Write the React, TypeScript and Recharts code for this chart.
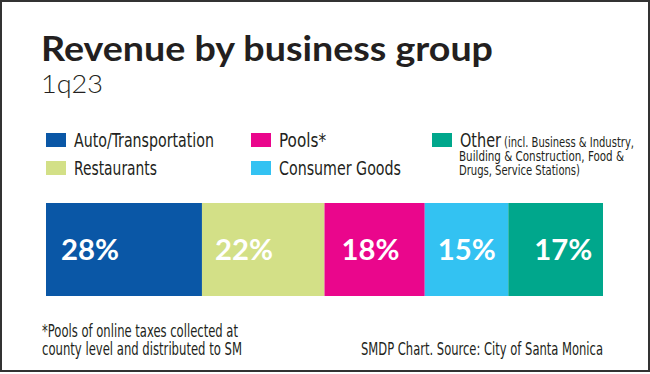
import React from 'react';
import { BarChart, Bar, XAxis, YAxis, LabelList } from 'recharts';

// ---- Data ----
const categories = ['Auto/Transportation', 'Restaurants', 'Pools*', 'Consumer Goods', 'Other'];
const seriesKeys = ['auto', 'restaurants', 'pools', 'consumer', 'other'];
const shares = [28, 22, 18, 15, 17];
const period = '1q23';
const title = 'Revenue by business group';
const otherNote = ['(incl. Business & Industry,', 'Building & Construction, Food &', 'Drugs, Service Stations)'];
const footnote = ['*Pools of online taxes collected at', 'county level and distributed to SM'];
const source = 'SMDP Chart. Source: City of Santa Monica';

// ---- Styles ----
const colors = ['#0a57a6', '#d3e087', '#ea068c', '#33c2f2', '#00a78c'];
const labelDx = [15, 13, 17, 13, 26];
const legendTextWidths = [140, 83, 47, 122, 41];
const legendColX = [46, 251, 432];
const legendRowY = [133, 161];
const ink = '#231f20';
const condensed = "'Liberation Sans Narrow', 'DejaVu Sans Condensed', 'Noto Sans', sans-serif";
const geo = "Lato, 'Open Sans', sans-serif";

const row: Record<string, any> = { period };
seriesKeys.forEach((k, i) => {
  row[k] = shares[i];
});
const data = [row];

const makeLabel = (i: number) => (props: any) => {
  const { x, y, height, value } = props;
  return (
    <text
      x={Number(x) + labelDx[i]}
      y={Number(y) + Number(height) / 2 + 10.5}
      fill="#ffffff"
      fontFamily={geo}
      fontWeight={700}
      fontSize={28}
      textLength={58}
      lengthAdjust="spacingAndGlyphs"
    >
      {value}%
    </text>
  );
};

export default function App() {
  return (
    <div style={{ position: 'absolute', left: 0, top: 0, width: 650, height: 374, background: '#fff', overflow: 'hidden' }}>
      <div style={{ position: 'absolute', left: 0, top: 0 }}>
        <BarChart
          width={650}
          height={372}
          data={data}
          layout="vertical"
          margin={{ top: 203, right: 47, bottom: 76, left: 46 }}
          barCategoryGap={0}
        >
          <XAxis type="number" domain={[0, 100]} hide />
          <YAxis type="category" dataKey="period" hide />
          {seriesKeys.map((k, i) => (
            <Bar key={k} dataKey={k} name={categories[i]} stackId="a" fill={colors[i]} isAnimationActive={false}>
              <LabelList dataKey={k} content={makeLabel(i)} />
            </Bar>
          ))}
        </BarChart>
      </div>
      <svg width={650} height={372} style={{ position: 'absolute', left: 0, top: 0, pointerEvents: 'none' }}>
        <text x={41} y={61} fontFamily={geo} fontWeight={700} fontSize={34} fill={ink} textLength={452} lengthAdjust="spacingAndGlyphs">
          {title}
        </text>
        <text x={41} y={93} fontFamily={geo} fontWeight={300} fontSize={25} fill={ink} textLength={62} lengthAdjust="spacingAndGlyphs">
          {period}
        </text>
        {categories.map((c, i) => {
          const col = Math.floor(i / 2);
          const r = i % 2;
          const sx = legendColX[col];
          const sy = legendRowY[r];
          return (
            <g key={c}>
              <rect x={sx} y={sy} width={20} height={14} fill={colors[i]} />
              <text x={sx + 28} y={sy + 14} fontFamily={condensed} fontSize={20} fill={ink} textLength={legendTextWidths[i]} lengthAdjust="spacingAndGlyphs">
                {c}
              </text>
            </g>
          );
        })}
        {otherNote.map((t, i) => (
          <text
            key={t}
            x={i === 0 ? 504 : 459}
            y={147 + i * 14}
            fontFamily={condensed}
            fontSize={14}
            fill={ink}
            textLength={[130, 165, 121][i]}
            lengthAdjust="spacingAndGlyphs"
          >
            {t}
          </text>
        ))}
        {footnote.map((t, i) => (
          <text key={t} x={42} y={337 + i * 18} fontFamily={condensed} fontSize={18} fill={ink} textLength={[196, 200][i]} lengthAdjust="spacingAndGlyphs">
            {t}
          </text>
        ))}
        <text x={603} y={355} textAnchor="end" fontFamily={condensed} fontSize={18} fill={ink} textLength={242} lengthAdjust="spacingAndGlyphs">
          {source}
        </text>
      </svg>
      <div style={{ position: 'absolute', left: 0, top: 0, width: 650, height: 372, border: '2px solid #333', boxSizing: 'border-box', pointerEvents: 'none' }} />
    </div>
  );
}
